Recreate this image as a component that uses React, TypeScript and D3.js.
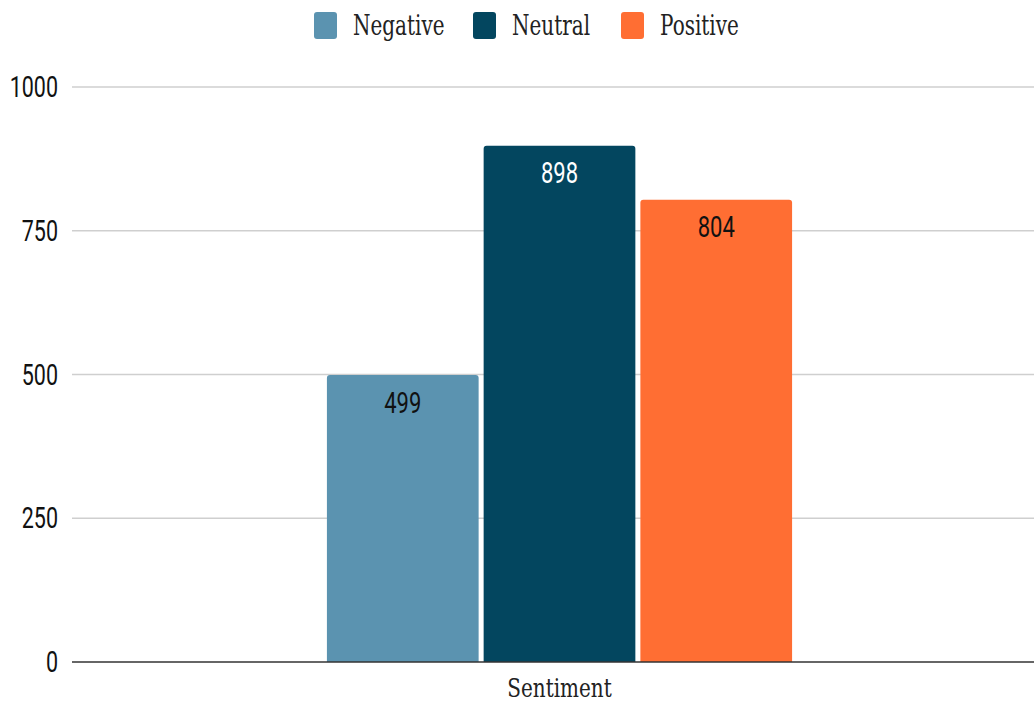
import React from "react";
import * as d3 from "d3";

const categories = ["Sentiment"];
const series = ["Negative", "Neutral", "Positive"];
const values = [499, 898, 804];
const colors = ["#5B93B0", "#03465F", "#FF6E33"];
const labelColors = ["#111111", "#ffffff", "#111111"];
const yTicks = [0, 250, 500, 750, 1000];

const W = 1034;
const H = 704;
const SY = 1.35;

function topRounded(x: number, y: number, w: number, h: number, r: number) {
  return `M${x},${y + h}V${y + r}Q${x},${y} ${x + r},${y}H${x + w - r}Q${x + w},${y} ${x + w},${y + r}V${y + h}Z`;
}

export default function App() {
  const left = 72;
  const y = d3.scaleLinear().domain([0, 1000]).range([662, 87]);
  const x0 = d3.scaleBand<string>().domain(categories).range([left, 1047]).paddingInner(0).paddingOuter(0.548);
  const x1 = d3.scaleBand<string>().domain(series).range([0, x0.bandwidth()]).paddingInner(0.032);

  const legendX = [314, 473, 621];

  return (
    <svg width={W} height={H} style={{ position: "absolute", left: 0, top: 0 }}>
      <rect width={W} height={H} fill="#fff" />
      {yTicks.map((t) => (
        <g key={t}>
          {t !== 0 && <line x1={left} x2={W} y1={y(t)} y2={y(t)} stroke="#cfcfcf" strokeWidth={1.5} />}
          <text
            transform={`translate(58,${y(t) + 10}) scale(1,${SY})`}
            textAnchor="end"
            fontFamily="Roboto"
            fontSize={21.5}
            fill="#111"
          >
            {t}
          </text>
        </g>
      ))}
      {categories.map((c) => (
        <g key={c}>
          {series.map((s, i) => {
            const bx = (x0(c) ?? 0) + (x1(s) ?? 0);
            const by = y(values[i]);
            const bh = y(0) - by;
            return (
              <g key={s}>
                <path d={topRounded(bx, by, x1.bandwidth(), bh, 3)} fill={colors[i]} />
                <text
                  transform={`translate(${bx + x1.bandwidth() / 2},${by + 37.5}) scale(1,${SY})`}
                  textAnchor="middle"
                  fontFamily="Roboto"
                  fontSize={22}
                  fill={labelColors[i]}
                >
                  {values[i]}
                </text>
              </g>
            );
          })}
          <text
            transform={`translate(${(x0(c) ?? 0) + x0.bandwidth() / 2},697) scale(1,1.3)`}
            textAnchor="middle"
            fontFamily="DejaVu Serif"
            fontSize={20}
            fill="#222"
          >
            {c}
          </text>
        </g>
      ))}
      <line x1={left} x2={W} y1={y(0)} y2={y(0)} stroke="#333" strokeWidth={1.5} />
      {series.map((s, i) => (
        <g key={s}>
          <rect x={legendX[i]} y={12} width={23} height={27} rx={3} fill={colors[i]} />
          <text
            transform={`translate(${legendX[i] + 39},35) scale(1,${SY})`}
            fontFamily="DejaVu Serif"
            fontSize={20}
            fill="#222"
          >
            {s}
          </text>
        </g>
      ))}
    </svg>
  );
}
